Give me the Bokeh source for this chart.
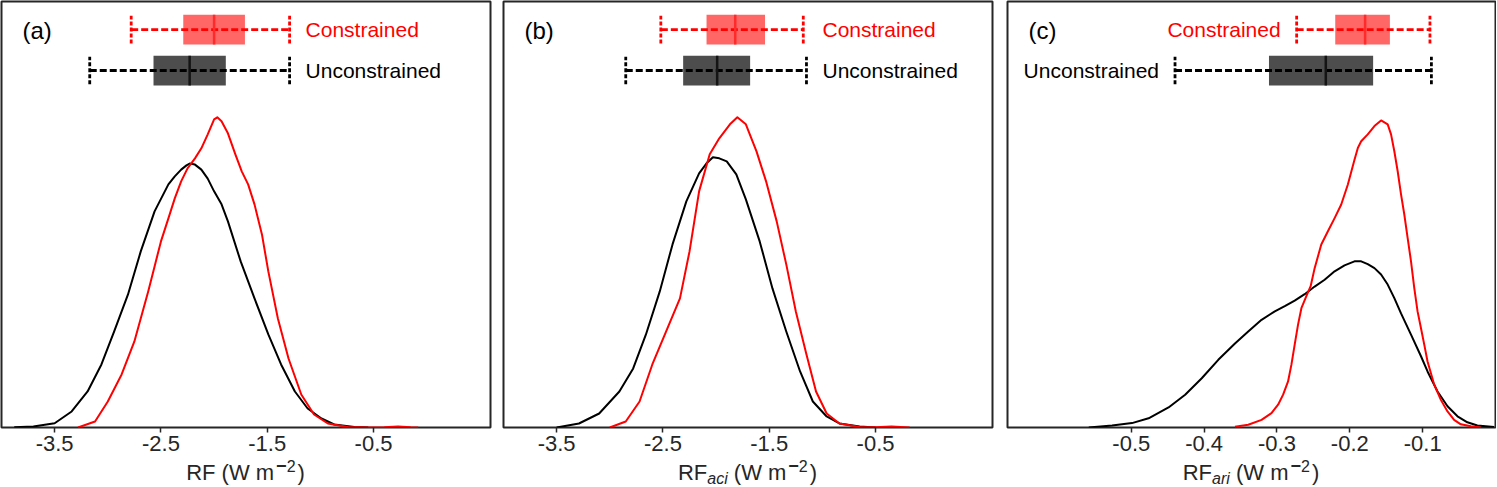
from bokeh.plotting import figure
from bokeh.models import Range1d, FixedTicker, Label, Div
from bokeh.layouts import row, column
from bokeh.embed import file_html
from bokeh.resources import INLINE

# ---------------- data ----------------
# panel (a): total RF
a_unc_x = [-3.88, -3.70, -3.50, -3.34, -3.19, -3.06, -2.94, -2.81, -2.69, -2.56, -2.43, -2.37,
           -2.31, -2.26, -2.23, -2.18, -2.12, -2.06, -2.00, -1.93, -1.87, -1.75, -1.62, -1.49,
           -1.37, -1.24, -1.12, -0.99, -0.87, -0.68, -0.55]
a_unc_y = [0.001, 0.004, 0.017, 0.064, 0.144, 0.252, 0.384, 0.532, 0.704, 0.864, 0.972, 1.004,
           1.031, 1.048, 1.055, 1.051, 1.031, 0.995, 0.944, 0.892, 0.824, 0.664, 0.516, 0.372,
           0.252, 0.144, 0.076, 0.036, 0.012, 0.002, 0.000]
a_con_x = [-3.28, -3.12, -3.00, -2.87, -2.75, -2.62, -2.56, -2.50, -2.43, -2.37, -2.31, -2.25,
           -2.18, -2.12, -2.06, -2.00, -1.97, -1.93, -1.87, -1.80, -1.74, -1.68, -1.62, -1.55,
           -1.49, -1.40, -1.30, -1.18, -1.06, -0.93, -0.74, -0.55, -0.40, -0.27, -0.15, -0.08]
a_con_y = [0.000, 0.024, 0.104, 0.212, 0.344, 0.544, 0.644, 0.744, 0.836, 0.916, 0.984, 1.036,
           1.076, 1.116, 1.172, 1.232, 1.240, 1.224, 1.176, 1.092, 1.024, 0.972, 0.892, 0.772,
           0.624, 0.436, 0.276, 0.132, 0.052, 0.016, 0.002, 0.000, 0.001, 0.004, 0.001, 0.000]

# panel (b): RF aci
b_unc_x = [-3.50, -3.29, -3.10, -2.91, -2.78, -2.66, -2.53, -2.41, -2.28, -2.16, -2.09, -2.03,
           -1.97, -1.90, -1.81, -1.72, -1.59, -1.47, -1.34, -1.21, -1.09, -0.96, -0.84, -0.65, -0.50]
b_unc_y = [0.000, 0.016, 0.056, 0.144, 0.236, 0.372, 0.544, 0.732, 0.904, 1.016, 1.056, 1.080,
           1.076, 1.064, 1.012, 0.912, 0.744, 0.556, 0.384, 0.224, 0.104, 0.044, 0.016, 0.004, 0.000]
b_con_x = [-3.00, -2.85, -2.72, -2.60, -2.47, -2.34, -2.25, -2.16, -2.06, -1.97, -1.87, -1.80,
           -1.72, -1.62, -1.53, -1.43, -1.34, -1.25, -1.15, -1.06, -0.96, -0.84, -0.65, -0.50,
           -0.35, -0.18]
b_con_y = [0.000, 0.024, 0.104, 0.252, 0.384, 0.516, 0.704, 0.944, 1.092, 1.156, 1.212, 1.240,
           1.212, 1.104, 0.984, 0.824, 0.652, 0.464, 0.292, 0.144, 0.056, 0.016, 0.002, 0.001,
           0.004, 0.000]

# panel (c): RF ari
c_unc_x = [-0.5584, -0.5264, -0.4991, -0.4763, -0.4489, -0.4261, -0.4033, -0.3806, -0.3577,
           -0.3395, -0.3212, -0.3030, -0.2893, -0.2757, -0.2620, -0.2483, -0.2346, -0.2209,
           -0.2073, -0.1936, -0.1844, -0.1754, -0.1662, -0.1571, -0.1480, -0.1389, -0.1297,
           -0.1160, -0.1023, -0.0933, -0.0796, -0.0659, -0.0522, -0.0386, -0.0249, -0.0021]
c_unc_y = [0.00, 0.05, 0.11, 0.23, 0.50, 0.82, 1.23, 1.69, 2.10, 2.40, 2.69, 2.90, 3.03, 3.17,
           3.33, 3.52, 3.69, 3.90, 4.05, 4.15, 4.15, 4.08, 3.98, 3.82, 3.57, 3.23, 2.85, 2.32,
           1.78, 1.40, 0.90, 0.53, 0.28, 0.13, 0.05, 0.01]
c_con_x = [-0.3577, -0.3395, -0.3212, -0.3076, -0.2985, -0.2916, -0.2848, -0.2802, -0.2757,
           -0.2711, -0.2665, -0.2597, -0.2538, -0.2483, -0.2392, -0.2301, -0.2209, -0.2118,
           -0.2027, -0.1936, -0.1890, -0.1844, -0.1754, -0.1662, -0.1571, -0.1480, -0.1434,
           -0.1389, -0.1343, -0.1297, -0.1252, -0.1206, -0.1160, -0.1115, -0.1070, -0.1023,
           -0.0978, -0.0933, -0.0841, -0.0750, -0.0659, -0.0568, -0.0476, -0.0339, -0.0202]
c_con_y = [0.02, 0.07, 0.19, 0.36, 0.57, 0.82, 1.15, 1.57, 2.07, 2.57, 2.98, 3.28, 3.53, 3.98,
           4.57, 4.90, 5.23, 5.57, 6.07, 6.69, 6.98, 7.15, 7.32, 7.53, 7.67, 7.57, 7.32, 6.90,
           6.40, 5.82, 5.32, 4.73, 4.15, 3.48, 2.90, 2.48, 2.07, 1.65, 1.07, 0.69, 0.40, 0.19,
           0.08, 0.03, 0.00]

# box-plot statistics: [whisker_low, q1, median, q3, whisker_high]
a_con_stats = [-2.78, -2.29, -2.00, -1.71, -1.29]
a_unc_stats = [-3.17, -2.57, -2.23, -1.89, -1.29]
b_con_stats = [-2.52, -2.09, -1.82, -1.54, -1.18]
b_unc_stats = [-2.85, -2.31, -1.99, -1.68, -1.15]
c_con_stats = [-0.273, -0.220, -0.179, -0.145, -0.090]
c_unc_stats = [-0.440, -0.311, -0.233, -0.168, -0.088]

ab_ticks = [-3.5, -2.5, -1.5, -0.5]
ab_tick_labels = ["-3.5", "-2.5", "-1.5", "-0.5"]
c_ticks = [-0.5, -0.4, -0.3, -0.2, -0.1]
c_tick_labels = ["-0.5", "-0.4", "-0.3", "-0.2", "-0.1"]

panel_tags = ["(a)", "(b)", "(c)"]
series_names = ["Constrained", "Unconstrained"]
subscripts = ["", "aci", "ari"]

# ---------------- styling ----------------
FONT = "Liberation Sans"
FS = "21px"
FRAME_H = 426
DARK = "#262626"
RED = "#ff0000"


def make_panel(tag, xr, ticks, tick_labels, ymax, con_x, con_y, unc_x, unc_y,
               con_stats, unc_stats, labels_left, fw, bl, br):
    p = figure(frame_width=fw, frame_height=FRAME_H,
               x_range=Range1d(*xr), y_range=Range1d(0, ymax),
               output_backend="svg", toolbar_location=None, y_axis_location=None,
               min_border_left=bl, min_border_right=br, min_border_top=1,
               min_border_bottom=36, margin=0)
    p.outline_line_color = DARK
    p.outline_line_width = 2
    p.grid.visible = False
    p.background_fill_color = "white"
    p.border_fill_color = "white"

    ax = p.xaxis[0]
    ax.ticker = FixedTicker(ticks=ticks)
    ax.major_label_overrides = {t: l for t, l in zip(ticks, tick_labels)}
    ax.axis_line_color = None
    ax.major_tick_line_color = DARK
    ax.major_tick_line_width = 1.5
    ax.major_tick_out = 5
    ax.major_tick_in = 0
    ax.minor_tick_line_color = None
    ax.major_label_text_font = FONT
    ax.major_label_text_font_size = "22px"
    ax.major_label_text_color = DARK
    ax.major_label_standoff = 3

    # density curves
    p.line(unc_x, unc_y, line_color="black", line_width=2, line_join="round")
    p.line(con_x, con_y, line_color=RED, line_width=2, line_join="round")

    # box plots near the top
    hh = ymax * 0.0349
    ch = ymax * 0.0325
    rows = [
        (con_stats, ymax * (1 - 0.0658), "#ff6666", RED, "#ff2b2b", RED, series_names[0]),
        (unc_stats, ymax * (1 - 0.162), "#4d4d4d", "black", "#141414", "black", series_names[1]),
    ]
    for st, yc, fill, wcol, mcol, tcol, name in rows:
        lo, q1, med, q3, hi = st
        p.quad(left=[q1], right=[q3], bottom=[yc - hh], top=[yc + hh],
               fill_color=fill, line_color=None)
        p.segment(x0=[lo], x1=[hi], y0=[yc], y1=[yc], line_color=wcol,
                  line_width=2.8, line_dash="7 3")
        p.segment(x0=[lo, hi], x1=[lo, hi], y0=[yc - ch] * 2, y1=[yc + ch] * 2,
                  line_color=wcol, line_width=2.8, line_dash="4 2")
        p.segment(x0=[med], x1=[med], y0=[yc - hh], y1=[yc + hh], line_color=mcol,
                  line_width=2.5)
        if labels_left:
            p.add_layout(Label(x=lo, y=yc, x_offset=-16, text=name, text_align="right",
                               text_baseline="middle", text_font=FONT,
                               text_font_size=FS, text_color=tcol))
        else:
            xm = max(con_stats[4], unc_stats[4])
            p.add_layout(Label(x=xm, y=yc, x_offset=16, text=name, text_align="left",
                               text_baseline="middle", text_font=FONT,
                               text_font_size=FS, text_color=tcol))

    # panel tag
    p.add_layout(Label(x=xr[0], y=ymax * (1 - 0.0658), x_offset=21, y_offset=-1, text=tag,
                       text_align="left", text_baseline="middle", text_font=FONT,
                       text_font_size="24px", text_color="black"))
    return p


def label_div(sub, fw, bl, br):
    s = "RF"
    if sub:
        s += ('<span style="font-size:16px;font-style:italic;position:relative;top:4px">'
              f'{sub}</span>')
    s += (' (W m<span style="position:relative;top:-8px;margin-left:2px;margin-right:2px">'
          '<span style="font-size:18px;font-weight:bold">\u2212</span>'
          '<span style="font-size:16px">2</span></span>)')
    w = bl + fw + br
    html = (f'<div style="width:{w}px;box-sizing:border-box;padding-left:{bl}px;'
            f'padding-right:{br}px;text-align:center;font-family:\'Liberation Sans\';'
            f'font-size:22px;line-height:20px;color:{DARK};white-space:nowrap">{s}</div>')
    return Div(text=html, width=w, height=23, margin=0)


geo = [(489, 1, 7), (489, 6, 7), (488, 8, 1)]

pa = make_panel(panel_tags[0], (-4.0, 0.6), ab_ticks, ab_tick_labels, 1.703,
                a_con_x, a_con_y, a_unc_x, a_unc_y, a_con_stats, a_unc_stats, False, *geo[0])
pb = make_panel(panel_tags[1], (-4.0, 0.6), ab_ticks, ab_tick_labels, 1.703,
                b_con_x, b_con_y, b_unc_x, b_unc_y, b_con_stats, b_unc_stats, False, *geo[1])
pc = make_panel(panel_tags[2], (-0.67, 0.0), c_ticks, c_tick_labels, 10.64,
                c_con_x, c_con_y, c_unc_x, c_unc_y, c_con_stats, c_unc_stats, True, *geo[2])

cols = [column(p, label_div(sub, *g), spacing=0, margin=0)
        for p, sub, g in zip([pa, pb, pc], subscripts, geo)]
layout = row(*cols, spacing=0, margin=0)
open("out.html", "w").write(file_html(layout, INLINE, title="RF distributions"))
